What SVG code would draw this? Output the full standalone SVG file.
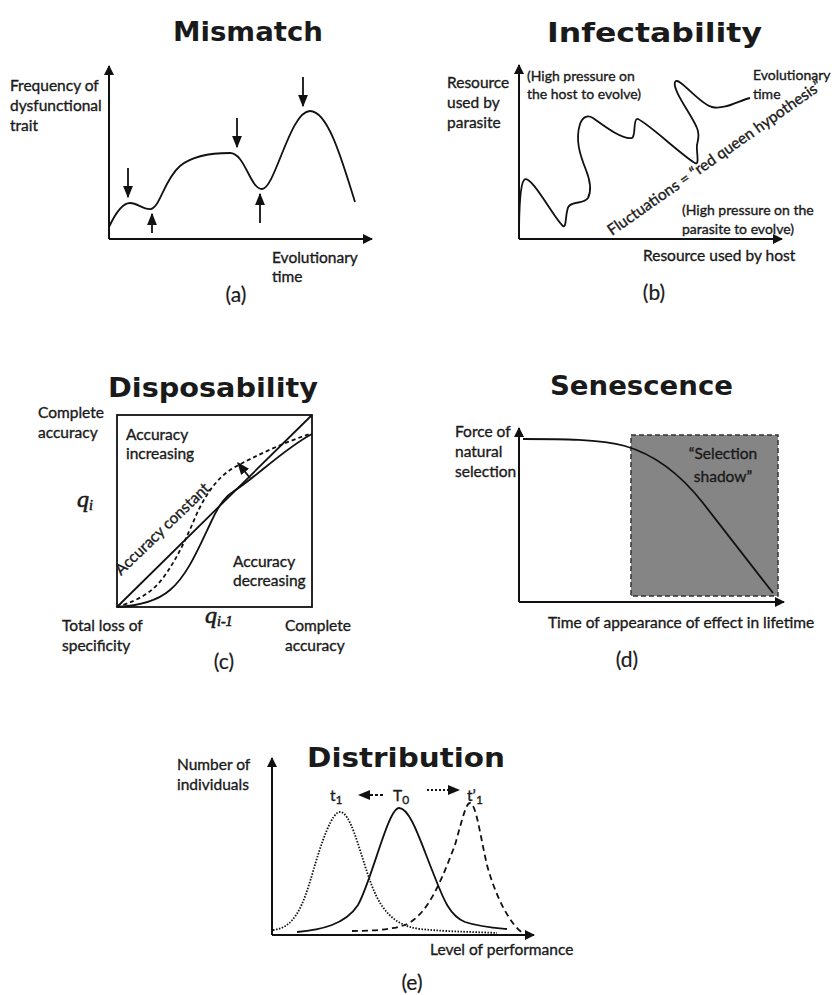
<svg xmlns="http://www.w3.org/2000/svg" width="832" height="995" viewBox="0 0 832 995">
<style>
text{font-family:Lato,"Liberation Sans",sans-serif;fill:#1a1a1a;font-size:15.5px;stroke:#1a1a1a;stroke-width:0.35}
.sm{font-size:14px}
.title{font-family:"DejaVu Sans",sans-serif;font-weight:bold;font-size:26px;stroke:none}
.lab{font-size:21px;stroke-width:0.2}
.ax{stroke:#111;stroke-width:2;fill:none}
.cv{stroke:#111;stroke-width:1.8;fill:none}
.q{font-family:"Liberation Serif",serif;font-style:italic;font-size:24px;stroke-width:0.6}
</style>
<defs>
<marker id="ah" viewBox="0 0 10 10" refX="9" refY="5" markerWidth="5" markerHeight="5" orient="auto-start-reverse" markerUnits="strokeWidth"><path d="M0,0 L10,5 L0,10 z" fill="#111"/></marker>
<marker id="sa" viewBox="0 0 10 10" refX="9" refY="5" markerWidth="7" markerHeight="7" orient="auto" markerUnits="strokeWidth"><path d="M0,1 L10,5 L0,9 z" fill="#111"/></marker>
</defs>
<rect width="832" height="995" fill="#fff"/>

<g id="panel-a">
<text class="title" x="173" y="41" textLength="150" lengthAdjust="spacingAndGlyphs">Mismatch</text>
<path class="ax" d="M109,239 L109,66" marker-end="url(#ah)"/>
<path class="ax" d="M109,239 L372,239" marker-end="url(#ah)"/>
<text x="10" y="91">Frequency of</text>
<text x="10" y="111">dysfunctional</text>
<text x="10" y="131">trait</text>
<path class="cv" d="M109,227 C116,212 123,203 130,203 C138,203 143,210 151,209 C160,207 164,180 180,166 C192,156 210,153 230,153 C245,153 250,189 262,189 C275,189 290,111 310,111 C328,111 342,160 355,202"/>
<g class="cv" stroke-width="1.5">
<path d="M128,168 L128,197" marker-end="url(#sa)"/>
<path d="M152,233 L152,214" marker-end="url(#sa)"/>
<path d="M237,118 L237,147" marker-end="url(#sa)"/>
<path d="M260,223 L260,194" marker-end="url(#sa)"/>
<path d="M303,77 L303,106" marker-end="url(#sa)"/>
</g>
<text x="272" y="263">Evolutionary</text>
<text x="272" y="282">time</text>
<text class="lab" x="236" y="302" text-anchor="middle">(a)</text>
</g>

<g id="panel-b">
<text class="title" x="547" y="42" textLength="215" lengthAdjust="spacingAndGlyphs">Infectability</text>
<path class="ax" d="M519,239 L519,65" marker-end="url(#ah)"/>
<path class="ax" d="M519,239 L782,239" marker-end="url(#ah)"/>
<text x="447" y="88">Resource</text>
<text x="447" y="108">used by</text>
<text x="447" y="128">parasite</text>
<text class="sm" x="527" y="81">(High pressure on</text>
<text class="sm" x="527" y="99">the host to evolve)</text>
<text class="sm" x="753" y="80">Evolutionary</text>
<text class="sm" x="753" y="99">time</text>
<path class="cv" d="M519,239 C519,215 520,185 524,180 C530,172 555,220 563,226 C567,229 565,210 569,206 C574,201 584,204 588,198 C592,190 590,180 586,170 C580,155 575,140 580,124 C583,116 588,115 593,118 C603,125 622,140 632,138 C636,136 633,120 637,119 C642,118 685,158 695,163 C700,166 696,150 697,145 C698,140 700,135 697,128 C692,115 672,90 675,82 C678,75 700,105 712,107 C725,110 740,100 750,98"/>
<text x="612" y="236" font-size="11.2" stroke-width="0.25" transform="rotate(-35 612 236)">Fluctuations = “red queen hypothesis”</text>
<text class="sm" x="682" y="215">(High pressure on the</text>
<text class="sm" x="682" y="234">parasite to evolve)</text>
<text x="643" y="261">Resource used by host</text>
<text class="lab" x="654" y="300" text-anchor="middle">(b)</text>
</g>

<g id="panel-c">
<text class="title" x="108" y="397" textLength="210" lengthAdjust="spacingAndGlyphs">Disposability</text>
<rect x="117" y="415" width="195" height="192" fill="none" stroke="#111" stroke-width="1.8"/>
<path class="cv" d="M117,607 L312,415"/>
<path class="cv" d="M117,607 C135,606 155,603 170,590 C188,575 200,545 212,520 C220,503 226,496 234,491 C255,478 285,448 312,434"/>
<path class="cv" stroke-dasharray="4,3" stroke-width="1.5" d="M117,607 C128,603 148,598 163,578 C176,560 183,545 192,525 C202,500 215,478 235,467 C255,456 285,442 310,434"/>
<path class="cv" stroke-width="1.5" d="M250,478 L238,463" marker-end="url(#sa)"/>
<text x="38" y="418">Complete</text>
<text x="38" y="438">accuracy</text>
<text x="126" y="440">Accuracy</text>
<text x="126" y="459">increasing</text>
<text class="q" x="77" y="507">q<tspan font-size="14" dy="3">i</tspan></text>
<text x="121" y="576" font-size="12.5" stroke-width="0.25" transform="rotate(-44 121 576)">Accuracy constant</text>
<text x="233" y="567">Accuracy</text>
<text x="233" y="586">decreasing</text>
<text class="q" x="205" y="623" font-size="22">q<tspan font-size="14" dy="3">i-1</tspan></text>
<text x="62" y="631">Total loss of</text>
<text x="62" y="651">specificity</text>
<text x="285" y="631">Complete</text>
<text x="285" y="651">accuracy</text>
<text class="lab" x="224" y="669" text-anchor="middle">(c)</text>
</g>

<g id="panel-d">
<text class="title" x="550" y="395" textLength="183" lengthAdjust="spacingAndGlyphs">Senescence</text>
<rect x="631" y="435" width="147" height="161" fill="#858585" stroke="#333" stroke-width="1.5" stroke-dasharray="5,3"/>
<path class="ax" d="M519,602 L519,428" marker-end="url(#ah)"/>
<path class="ax" d="M519,602 L784,602" marker-end="url(#ah)"/>
<text x="455" y="437">Force of</text>
<text x="455" y="457">natural</text>
<text x="455" y="477">selection</text>
<path class="cv" d="M523,439 C560,439 600,439 625,446 C660,456 685,480 703,503 C730,538 755,570 773,593"/>
<text x="723" y="459" font-size="19.5" text-anchor="middle">“Selection</text>
<text x="723" y="482" font-size="19.5" text-anchor="middle">shadow”</text>
<text x="548" y="628">Time of appearance of effect in lifetime</text>
<text class="lab" x="627" y="667" text-anchor="middle">(d)</text>
</g>

<g id="panel-e">
<text class="title" x="307" y="767" textLength="198" lengthAdjust="spacingAndGlyphs">Distribution</text>
<path class="ax" d="M272,935 L272,758" marker-end="url(#ah)"/>
<path class="ax" d="M272,935 L534,935" marker-end="url(#ah)"/>
<text x="177" y="770">Number of</text>
<text x="177" y="790">individuals</text>
<text x="330" y="801" font-size="18">t<tspan font-size="12" dy="3">1</tspan></text>
<path class="cv" stroke-width="1.3" stroke-dasharray="3,2" d="M383,795 L359,795" marker-end="url(#sa)"/>
<text x="393" y="801" font-size="18">T<tspan font-size="12" dy="3">0</tspan></text>
<path class="cv" stroke-width="1.3" stroke-dasharray="2,2" d="M427,790 L459,790" marker-end="url(#sa)"/>
<text x="467" y="801" font-size="18">t’<tspan font-size="12" dy="3">1</tspan></text>
<path class="cv" stroke-width="1.3" stroke-dasharray="1.5,1.5" d="M273,930 C295,928 303,905 312,875 C322,840 332,812 340,812 C350,812 358,845 368,875 C378,905 390,925 420,929 C450,932 480,932 497,933"/>
<path class="cv" d="M297,932 C320,930 345,925 358,905 C372,880 388,808 399,808 C410,808 420,840 432,870 C442,895 448,915 465,922 C480,927 495,928 507,929"/>
<path class="cv" stroke-width="1.5" stroke-dasharray="6,4" d="M352,931 C370,931 390,930 405,925 C430,915 445,870 455,845 C462,820 466,803 470,803 C476,803 480,835 487,865 C495,895 510,925 523,933"/>
<text x="430" y="955">Level of performance</text>
<text class="lab" x="412" y="990" text-anchor="middle">(e)</text>
</g>
</svg>
